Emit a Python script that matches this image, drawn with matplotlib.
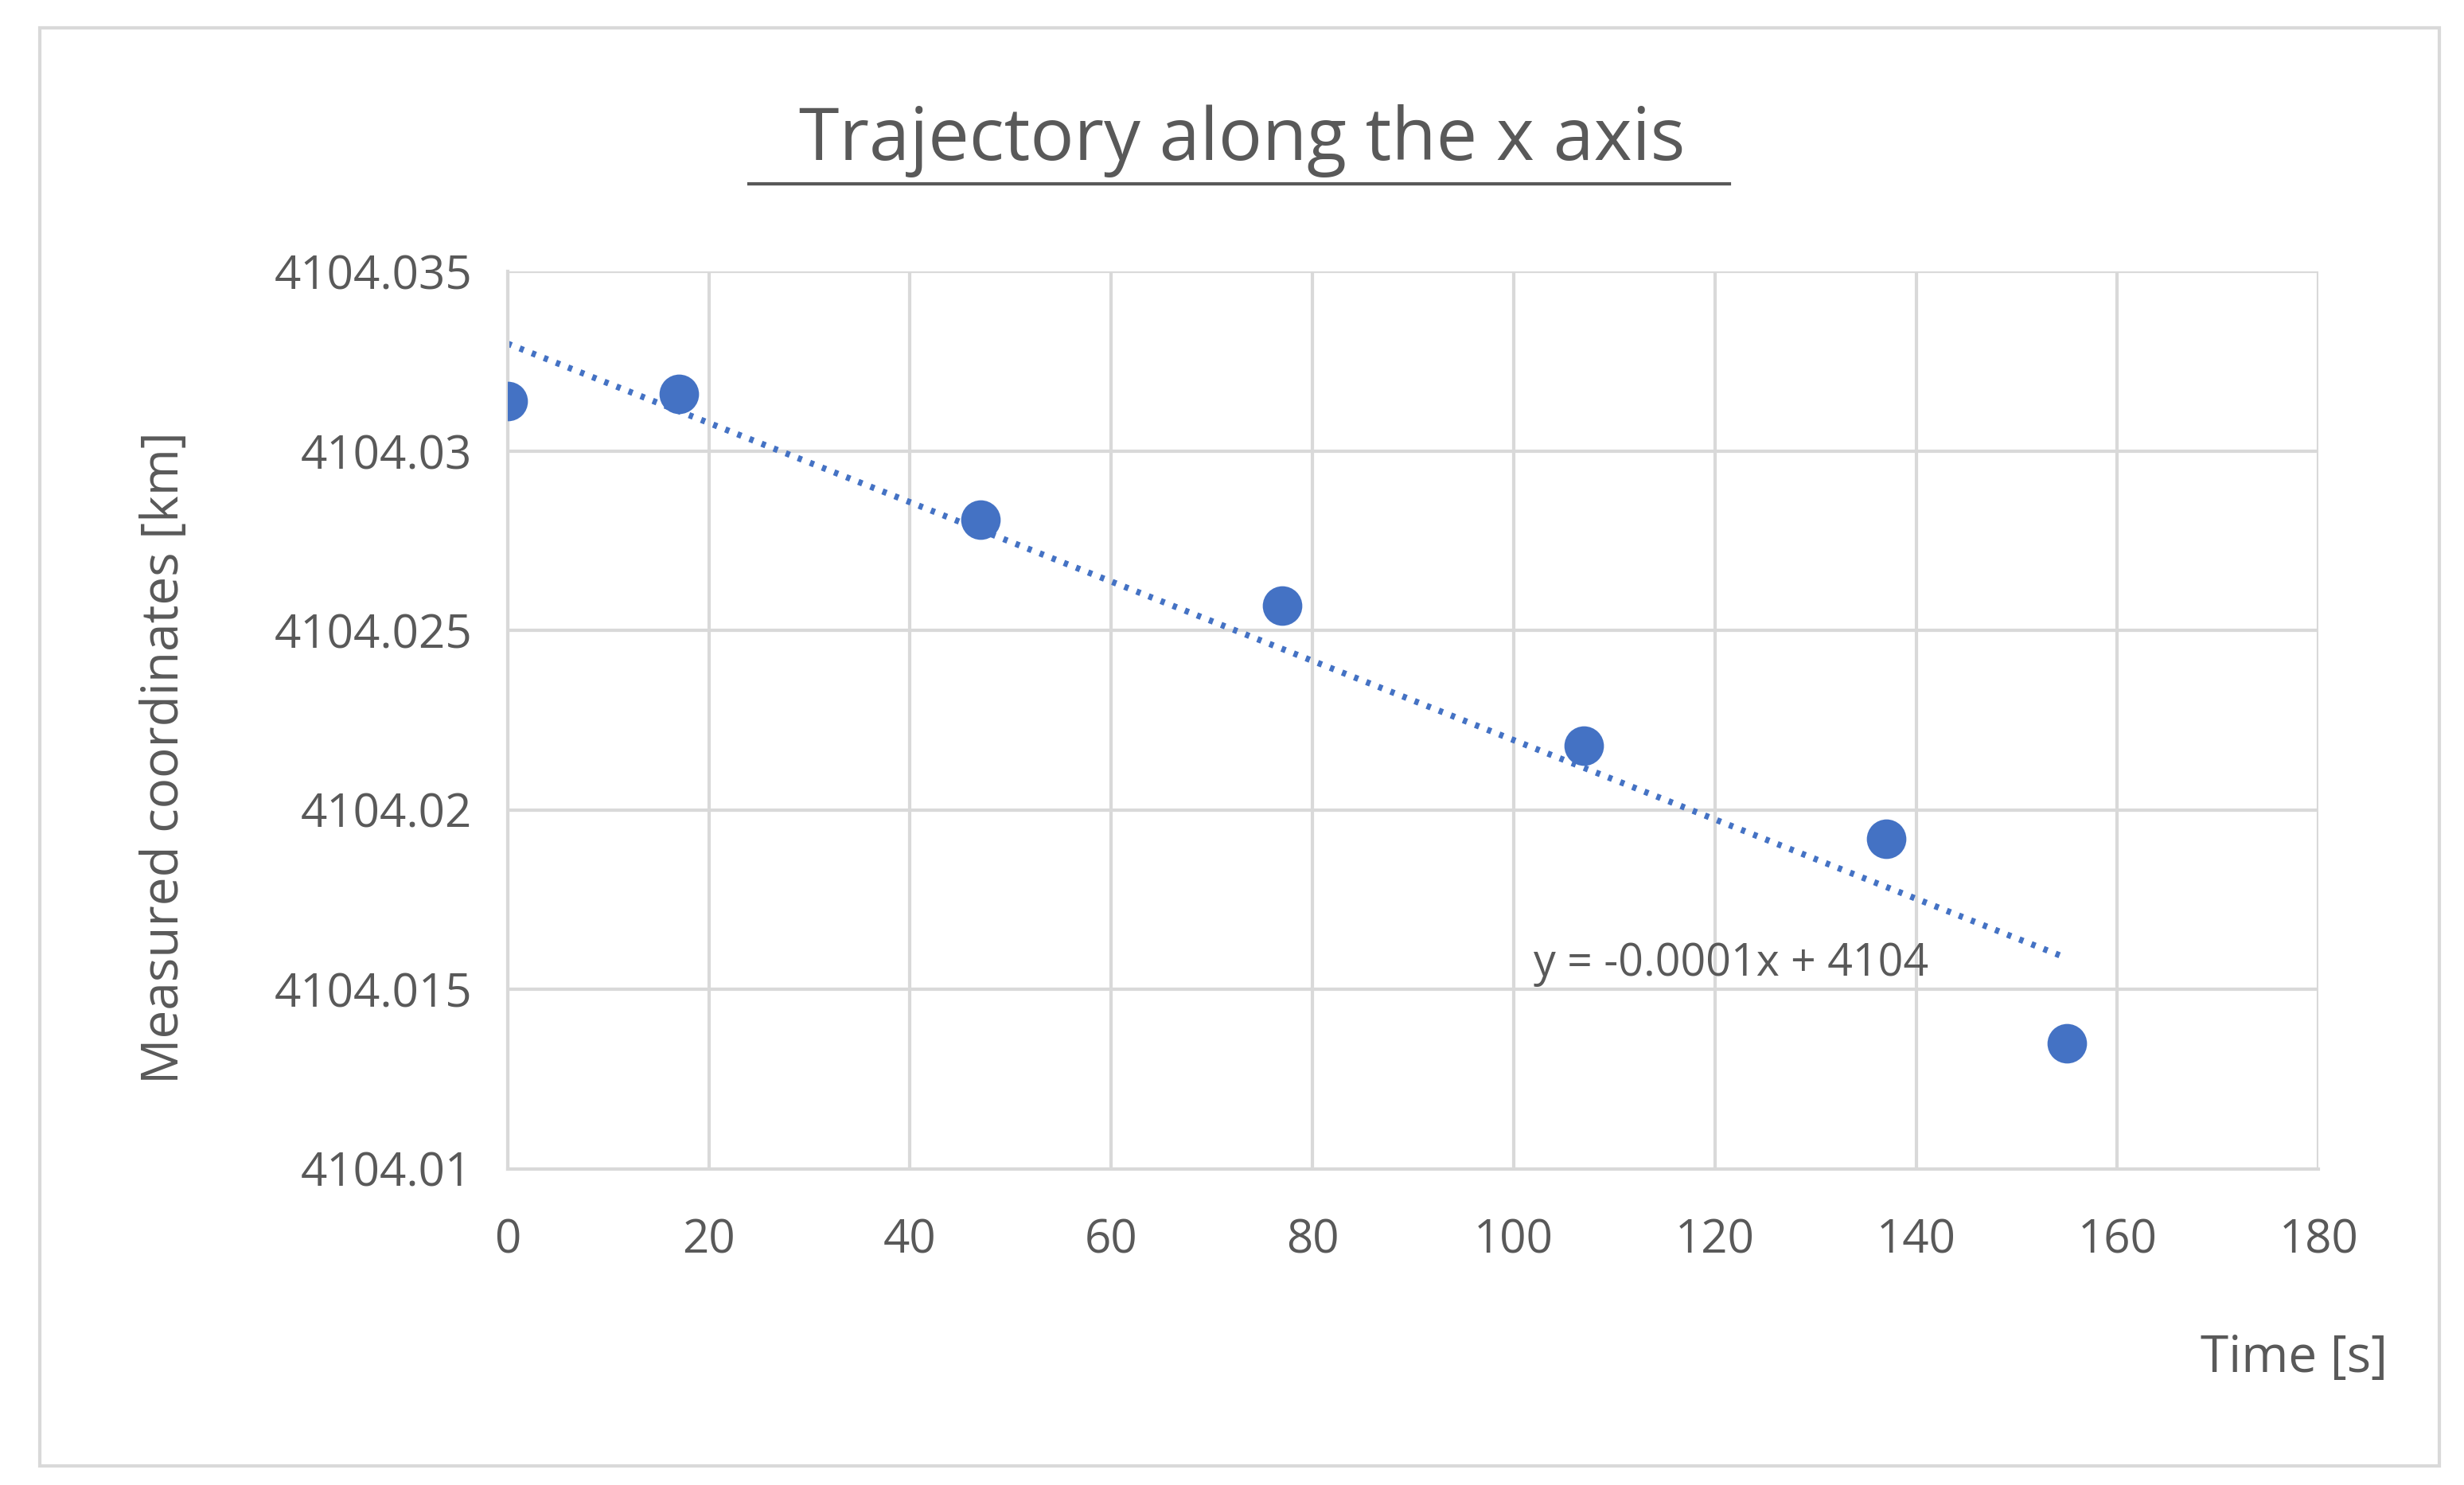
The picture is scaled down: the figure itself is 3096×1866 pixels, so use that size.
import numpy as np
import matplotlib.pyplot as plt
from matplotlib.patches import Rectangle

plt.rcParams['font.family'] = ['Open Sans', 'DejaVu Sans']

time_s = [0, 17, 47, 77, 107, 137, 155]
coord_km = [4104.0314, 4104.0316, 4104.0281, 4104.0257, 4104.0218, 4104.0192, 4104.0135]
x_ticks = [0, 20, 40, 60, 80, 100, 120, 140, 160, 180]
y_ticks = [4104.01, 4104.015, 4104.02, 4104.025, 4104.03, 4104.035]
y_tick_labels = ['4104.01', '4104.015', '4104.02', '4104.025', '4104.03', '4104.035']

gray = '#595959'
blue = '#4472c4'

fig = plt.figure(figsize=(15.48, 9.33), dpi=200)
fig.patches.append(Rectangle((0.016, 0.013), 0.974, 0.968, transform=fig.transFigure,
                             fill=False, edgecolor='#d9d9d9', linewidth=1.5))
ax = fig.add_axes([0.206, 0.213, 0.735, 0.604])

# linear trendline
slope, intercept = np.polyfit(time_s, coord_km, 1)
tx = np.array([0, 155])
ax.plot(tx, slope * tx + intercept, linestyle=(0, (0.7, 1.4)), color=blue, linewidth=2.8, zorder=2)
ax.scatter(time_s, coord_km, s=320, color=blue, zorder=3, linewidths=0)
ax.text(102, 4104.0157, 'y = -0.0001x + 4104', fontsize=20, color=gray, va='center', ha='left')

ax.set_xlim(0, 180)
ax.set_ylim(4104.01, 4104.035)
ax.set_xticks(x_ticks)
ax.set_yticks(y_ticks)
ax.set_yticklabels(y_tick_labels)
ax.grid(True, color='#d9d9d9', linewidth=1.5)
ax.set_axisbelow(True)
for side in ['top', 'right']:
    ax.spines[side].set_visible(False)
for side in ['left', 'bottom']:
    ax.spines[side].set_color('#d9d9d9')
    ax.spines[side].set_linewidth(1.5)
ax.tick_params(axis='y', length=0, labelsize=21, colors=gray, pad=16)
ax.tick_params(axis='x', length=0, labelsize=21, colors=gray, pad=22)

fig.text(0.504, 0.905, 'Trajectory along the x axis', fontsize=33, color=gray,
         ha='center', va='center')
fig.add_artist(plt.Line2D([0.304, 0.702], [0.876, 0.876], color=gray, linewidth=1.5))
fig.text(0.969, 0.085, 'Time [s]', fontsize=23, color=gray, ha='right', va='center')
fig.text(0.067, 0.49, 'Measured coordinates [km]', fontsize=23, color=gray,
         ha='center', va='center', rotation=90)

fig.savefig('out.png', dpi=200)
